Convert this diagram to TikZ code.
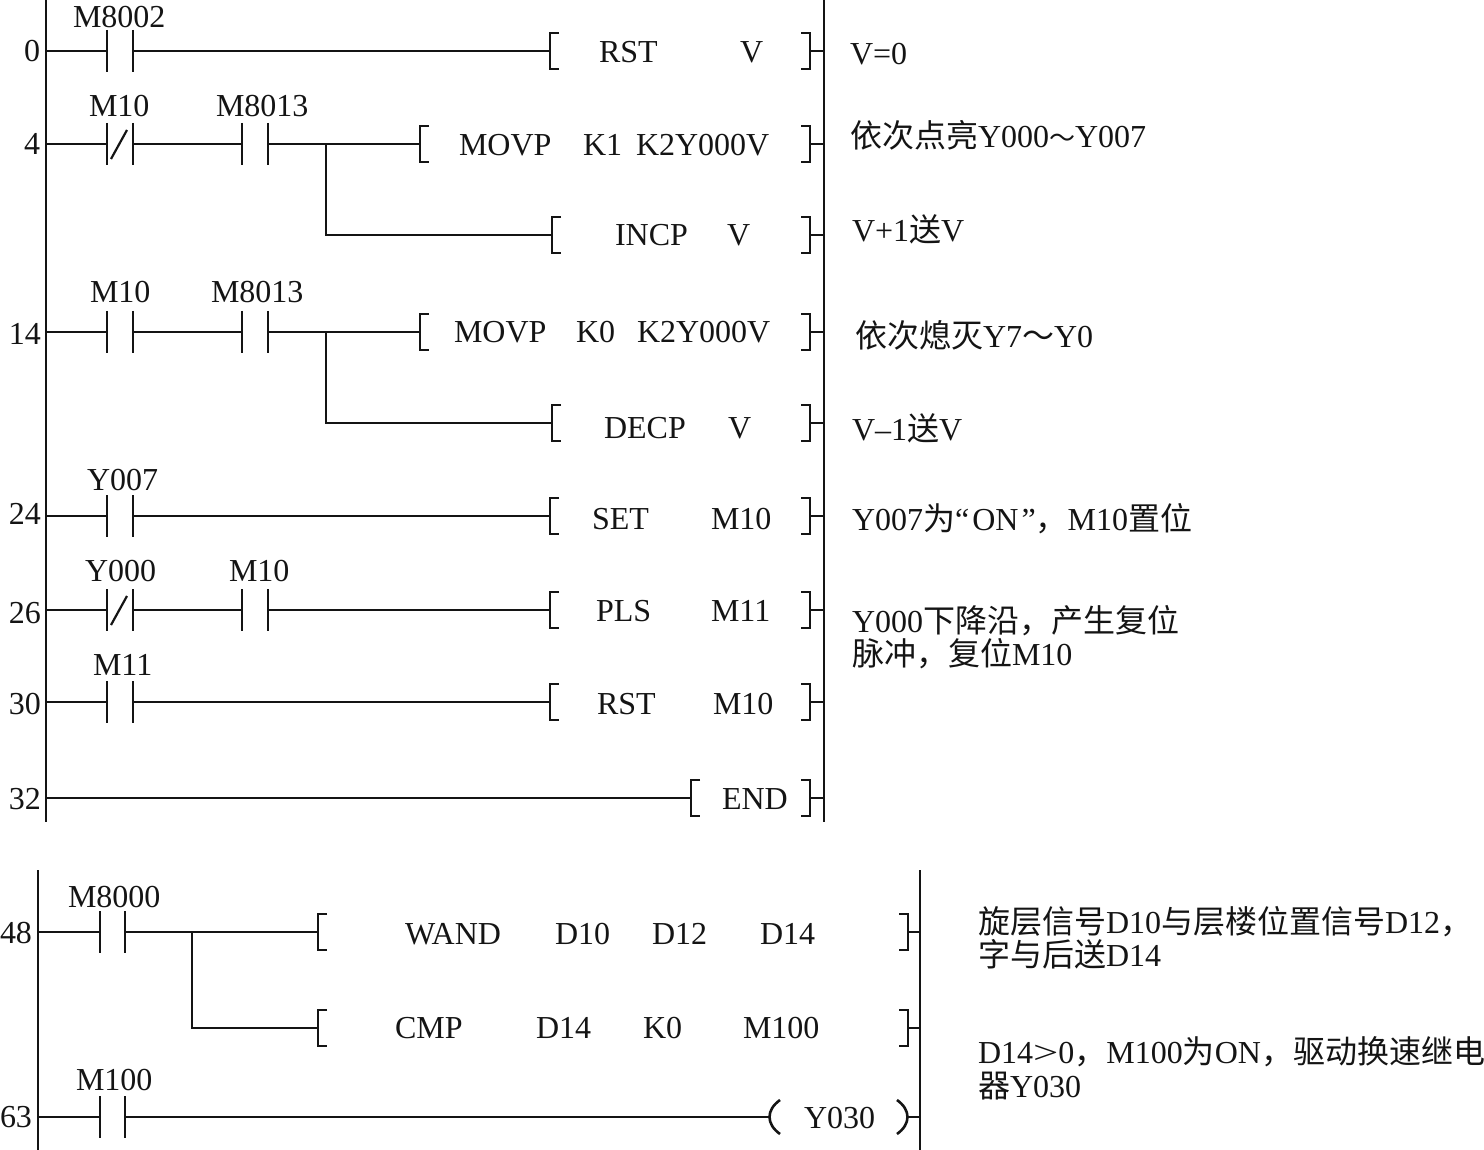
\documentclass[tikz,border=0pt]{standalone}
\usepackage{graphicx}
\usepackage{fontspec}
\setmainfont{Liberation Serif}
\newfontfamily\cjk{Noto Sans CJK SC}
\newcommand{\cj}[1]{{\cjk\fontsize{32}{32}\selectfont #1}}
\newcommand{\cjtilde}{{\cjk\fontsize{26}{32}\selectfont ～}}
\newcounter{labno}
\tikzset{
  wire/.style={draw=black!92,line width=2.6pt},
  txt/.style={inner sep=0pt,outer sep=0pt,anchor=base west,text=black!92,font=\fontsize{32}{32}\selectfont}
}
\newcommand{\lab}[3]{\stepcounter{labno}\node[txt] (t\thelabno) at (#1,#2) {#3};}
\newcommand{\NO}[4][26]{%
  \coordinate (#2l) at (#3,#4); \coordinate (#2r) at (#3+#1,#4);
  \draw[wire] (#3,#4-21) -- (#3,#4+21);
  \draw[wire] (#3+#1,#4-21) -- (#3+#1,#4+21);}
\newcommand{\NC}[3]{\NO{#1}{#2}{#3}\draw[wire,line width=2.2pt] (#2+4,#3+15) -- (#2+20,#3-14);}
\newcommand{\LB}[3]{%
  \coordinate (#1) at (#2,#3);
  \draw[wire] (#2+9,#3-18) -- (#2,#3-18) -- (#2,#3+18) -- (#2+9,#3+18);}
\newcommand{\RB}[4]{% name, x, y, rail x
  \coordinate (#1) at (#2,#3); \coordinate (#1e) at (#4,#3);
  \draw[wire] (#2-9,#3-18) -- (#2,#3-18) -- (#2,#3+18) -- (#2-9,#3+18);
  \draw[wire] (#1) -- (#1e);}
\begin{document}
\begin{tikzpicture}[x=1pt,y=-1pt]
\useasboundingbox (0,0) rectangle (1484,1150);
% rails
\coordinate (railAt) at (46,-2); \coordinate (railAb) at (46,822);
\coordinate (railBt) at (824,-2); \coordinate (railBb) at (824,822);
\coordinate (railCt) at (38,870); \coordinate (railCb) at (38,1150);
\coordinate (railDt) at (920,870); \coordinate (railDb) at (920,1150);
\draw[wire] (railAt) -- (railAb);
\draw[wire] (railBt) -- (railBb);
\draw[wire] (railCt) -- (railCb);
\draw[wire] (railDt) -- (railDb);
% rung 0
\coordinate (r0) at (46,51);
\NO{a}{107}{51} \LB{ab}{550}{51} \RB{ae}{810}{51}{824}
\draw[wire] (r0) -- (al); \draw[wire] (ar) -- (ab);
\lab{73}{28}{M8002} \lab{24}{62}{0}
\lab{599}{63}{RST} \lab{740}{63}{V}
\lab{850}{65}{V=0}
% rung 4
\coordinate (r1) at (46,144);
\NC{b}{107}{144} \NO{c}{242}{144} \LB{bb}{420}{144} \RB{be}{810}{144}{824}
\coordinate (j1) at (326,144); \coordinate (j1d) at (326,235);
\LB{cb}{552}{235} \RB{ce}{810}{235}{824}
\draw[wire] (r1) -- (bl); \draw[wire] (br) -- (cl); \draw[wire] (cr) -- (j1) -- (bb);
\draw[wire] (j1) -- (j1d) -- (cb);
\lab{89}{117}{M10} \lab{216}{117}{M8013} \lab{24}{155}{4}
\lab{459}{156}{MOVP} \lab{583}{156}{K1} \lab{636}{156}{K2Y000V}
\lab{615}{246}{INCP} \lab{727}{246}{V}
\lab{850}{148}{\cj{依次点亮}Y000\cjtilde Y007}
\lab{852}{242}{V+1\cj{送}V}
% rung 14
\coordinate (r2) at (46,332);
\NO{d}{107}{332} \NO{e}{242}{332} \LB{db}{420}{332} \RB{de}{810}{332}{824}
\coordinate (j2) at (326,332); \coordinate (j2d) at (326,423);
\LB{eb}{552}{423} \RB{ee}{810}{423}{824}
\draw[wire] (r2) -- (dl); \draw[wire] (dr) -- (el); \draw[wire] (er) -- (j2) -- (db);
\draw[wire] (j2) -- (j2d) -- (eb);
\lab{90}{303}{M10} \lab{211}{303}{M8013} \lab{9}{345}{14}
\lab{454}{343}{MOVP} \lab{576}{343}{K0} \lab{637}{343}{K2Y000V}
\lab{604}{438}{DECP} \lab{728}{438}{V}
\lab{855}{348}{\cj{依次熄灭}Y7\cj{～}Y0}
\lab{852}{440}{V\textendash 1\cj{送}V}
% rung 24
\coordinate (r3) at (46,516);
\NO{f}{107}{516} \LB{fb}{550}{516} \RB{fe}{810}{516}{824}
\draw[wire] (r3) -- (fl); \draw[wire] (fr) -- (fb);
\lab{87}{490}{Y007} \lab{9}{524}{24}
\lab{592}{529}{SET} \lab{711}{529}{M10}
\lab{852}{530}{Y007\cj{为}“\kern3pt ON\kern3pt ”\cj{，}M10\cj{置位}}
% rung 26
\coordinate (r4) at (46,610);
\NC{g}{107}{610} \NO{h}{242}{610} \LB{gb}{550}{610} \RB{ge}{810}{610}{824}
\draw[wire] (r4) -- (gl); \draw[wire] (gr) -- (hl); \draw[wire] (hr) -- (gb);
\lab{85}{581}{Y000} \lab{229}{581}{M10} \lab{9}{623}{26}
\lab{596}{621}{PLS} \lab{711}{621}{M11}
\lab{852}{632}{Y000\cj{下降沿，产生复位}}
\lab{852}{665}{\cj{脉冲，复位}M10}
% rung 30
\coordinate (r5) at (46,702);
\NO{i}{107}{702} \LB{ib}{550}{702} \RB{ie}{810}{702}{824}
\draw[wire] (r5) -- (il); \draw[wire] (ir) -- (ib);
\lab{93}{675}{M11} \lab{9}{714}{30}
\lab{597}{714}{RST} \lab{713}{714}{M10}
% rung 32
\coordinate (r6) at (46,798);
\LB{jb}{691}{798} \RB{je}{810}{798}{824}
\draw[wire] (r6) -- (jb);
\lab{9}{809}{32} \lab{722}{809}{END}
% lower rung 48
\coordinate (r7) at (38,932);
\NO[25]{k}{100}{932} \LB{kb}{318}{932} \RB{ke}{908}{932}{920}
\coordinate (j3) at (192,932); \coordinate (j3d) at (192,1028);
\LB{lb}{318}{1028} \RB{le}{908}{1028}{920}
\draw[wire] (r7) -- (kl); \draw[wire] (kr) -- (kb);
\draw[wire] (j3) -- (j3d) -- (lb);
\lab{68}{907}{M8000} \lab{0}{943}{48}
\lab{405}{944}{WAND} \lab{555}{944}{D10} \lab{652}{944}{D12} \lab{760}{944}{D14}
\lab{395}{1038}{CMP} \lab{536}{1038}{D14} \lab{643}{1038}{K0} \lab{743}{1038}{M100}
\lab{978}{933}{\cj{旋层信号}D10\cj{与层楼位置信号}D12\cj{，}}
\lab{978}{966}{\cj{字与后送}D14}
\lab{978}{1063}{D14\scalebox{1.4}[1]{>}0\cj{，}M100\cj{为}ON\cj{，驱动换速继电}}
\lab{978}{1097}{\cj{器}Y030}
% lower rung 63
\coordinate (r8) at (38,1117);
\NO[25]{m}{100}{1117}
\coordinate (cl) at (770,1117); \coordinate (cre) at (908,1117); \coordinate (crr) at (920,1117);
\draw[wire] (r8) -- (ml); \draw[wire] (mr) -- (cl);
\draw[wire] (780,1100) .. controls (766,1110) and (766,1124) .. (780,1134);
\draw[wire] (897,1100) .. controls (911,1110) and (911,1124) .. (897,1134);
\draw[wire] (cre) -- (crr);
\lab{76}{1090}{M100} \lab{0}{1127}{63} \lab{804}{1128}{Y030}
\end{tikzpicture}
\end{document}
